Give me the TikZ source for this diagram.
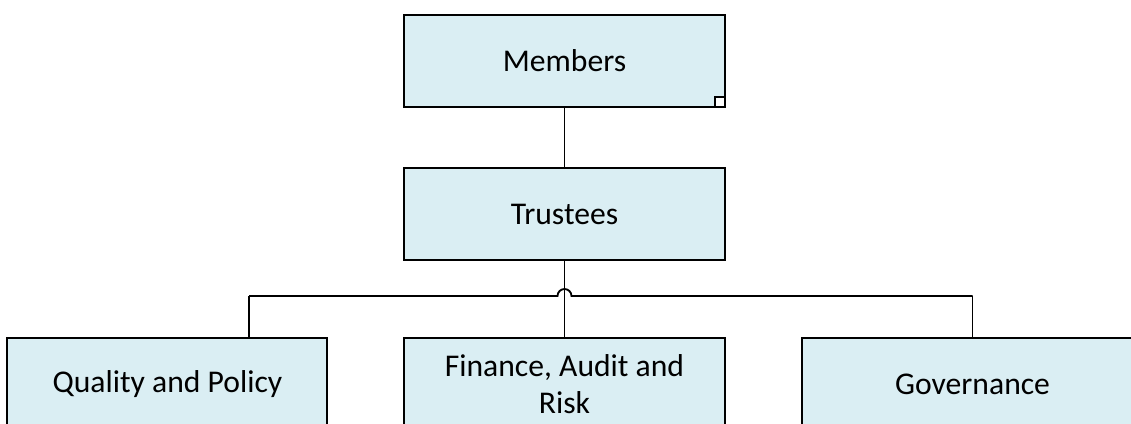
\documentclass[tikz,border=0pt]{standalone}
\usepackage{fontspec}
\setmainfont{Carlito}
\definecolor{boxfill}{HTML}{DAEEF3}
\usetikzlibrary{positioning, calc}

\begin{document}
\begin{tikzpicture}[x=0.025cm, y=-0.025cm, node distance=1.875cm,
    every node/.style={font=\fontsize{22.5}{26.5}\selectfont},
    unit/.style={draw=black, line width=1.4pt, fill=boxfill, minimum width=8cm, minimum height=2.3cm, align=center, inner sep=0pt},
    link/.style={draw=black, line width=1.3pt}]
        \clip (0,0) rectangle (1131,423);
        \node[unit] (members) at (564.5,61) {Members};
        \node[unit, below=1.475cm of members] (trustees) {Trustees};
        \node[unit, below=1.9cm of trustees] (finance) {Finance, Audit and\\Risk};
        \node[unit, left=of finance] (quality) {Quality and Policy};
        \node[unit, right=of finance, minimum width=8.55cm] (governance) {Governance};
        % resize handle on the selected box
        \node[draw=black, line width=1.1pt, fill=white, minimum size=0.25cm, inner sep=0pt, anchor=south east] (handle) at (members.south east) {};
        % committee bus with a hop over the trunk
        \coordinate (busL) at (249,296);
        \coordinate (busR) at (governance.north |- busL);
        \draw[link] (members.south) -- (trustees.north);
        \draw[link] (trustees.south) -- (finance.north);
        \draw[link] (busL) -- ($(trustees.south |- busL)+(-7,0)$) arc[start angle=180, end angle=0, radius=0.175cm] -- (busR);
        \draw[link] (busL) -- (busL |- quality.north);
        \draw[link] (busR) -- (governance.north);
      \end{tikzpicture}
\end{document}
